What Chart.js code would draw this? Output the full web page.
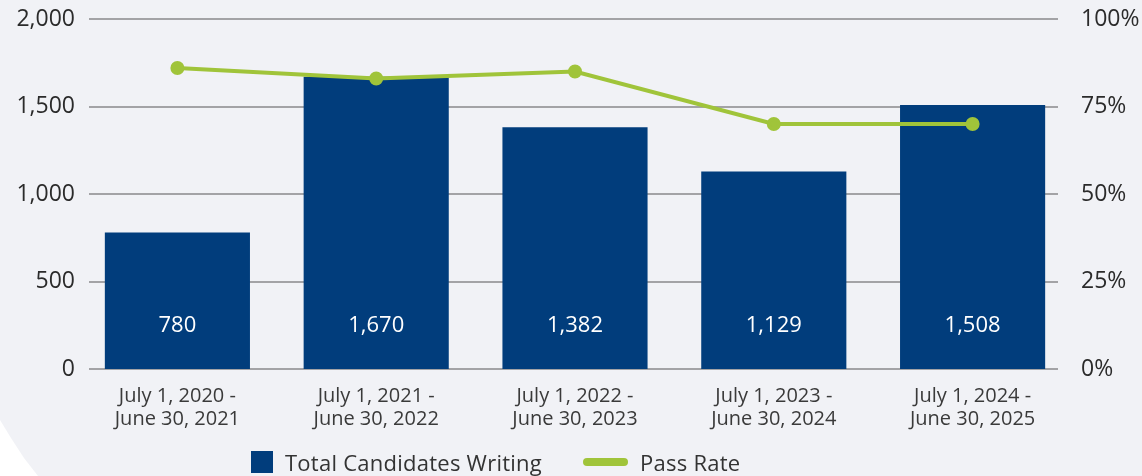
<!DOCTYPE html>
<html>
<head>
<meta charset="utf-8">
<script src="https://cdn.jsdelivr.net/npm/chart.js@4"></script>
<style>
  html, body { margin: 0; padding: 0; background: #ffffff; }
  #wrap {
    position: relative; width: 1142px; height: 476px;
    background: #f1f2f6;
    clip-path: polygon(0 0, 100% 0, 100% 100%, 38px 100%, 24px 458px, 11px 438px, 0 420px);
  }
  #chart { position: absolute; left: 0; top: 0; }
  #legend {
    position: absolute; top: 450px; left: 251px;
    display: flex; gap: 41px;
    font-family: "Open Sans", sans-serif; font-size: 22px; color: #333;
    letter-spacing: 0.25px;
  }
  .item { display: flex; align-items: center; height: 24px; white-space: nowrap; }
  .box { width: 22px; height: 22px; margin-right: 12px; }
  .ln { width: 45px; height: 8px; border-radius: 4px; margin-right: 12px; }
</style>
</head>
<body>
<div id="wrap">
  <canvas id="chart" width="1142" height="476"></canvas>
  <div id="legend"></div>
</div>
<script>
// Chart data
const periods = [
  ["July 1, 2020 -", "June 30, 2021"],
  ["July 1, 2021 -", "June 30, 2022"],
  ["July 1, 2022 -", "June 30, 2023"],
  ["July 1, 2023 -", "June 30, 2024"],
  ["July 1, 2024 -", "June 30, 2025"],
];
const candidates = [780, 1670, 1382, 1129, 1508];
const passRate = [86, 83, 85, 70, 70];

const navy = "#013d7c";
const green = "#a0c43a";
const font = "'Open Sans', sans-serif";

// horizontal grid lines, a bit inset from the plot edges
const gridLines = {
  id: "gridLines",
  beforeDatasetsDraw(chart) {
    const { ctx, chartArea, scales } = chart;
    ctx.save();
    ctx.strokeStyle = "#a3a3a6";
    ctx.lineWidth = 2;
    scales.y.ticks.forEach((t) => {
      const y = Math.round(scales.y.getPixelForValue(t.value));
      ctx.beginPath();
      ctx.moveTo(chartArea.left + 11, y);
      ctx.lineTo(chartArea.right - 14, y);
      ctx.stroke();
    });
    ctx.restore();
  },
};

// white value labels near the bottom of each bar
const barLabels = {
  id: "barLabels",
  afterDatasetsDraw(chart) {
    const { ctx } = chart;
    const meta = chart.getDatasetMeta(1);
    ctx.save();
    ctx.fillStyle = "#ffffff";
    ctx.font = "22px " + font;
    ctx.textAlign = "center";
    ctx.textBaseline = "middle";
    meta.data.forEach((bar, i) => {
      ctx.fillText(candidates[i].toLocaleString("en-US"), bar.x, bar.base - 43);
    });
    ctx.restore();
  },
};

const noPad = (s) => {
  s.paddingTop = 0;
  s.paddingBottom = 0;
  s.paddingLeft = 0;
  s.paddingRight = 0;
};

const chart = new Chart(document.getElementById("chart"), {
  data: {
    labels: periods,
    datasets: [
      {
        type: "line",
        label: "Pass Rate",
        data: passRate,
        yAxisID: "y1",
        borderColor: green,
        backgroundColor: green,
        borderWidth: 4,
        pointRadius: 5,
        pointHoverRadius: 5,
        tension: 0,
      },
      {
        type: "bar",
        label: "Total Candidates Writing",
        data: candidates,
        yAxisID: "y",
        backgroundColor: navy,
        barPercentage: 0.73,
        categoryPercentage: 1,
      },
    ],
  },
  options: {
    responsive: false,
    animation: false,
    layout: { padding: { top: 19, left: 0, right: 0, bottom: 0 } },
    plugins: { legend: { display: false }, tooltip: { enabled: false } },
    scales: {
      x: {
        grid: { display: false },
        border: { display: false },
        ticks: {
          color: "#3a3a3a",
          font: { family: font, size: 20, lineHeight: 1.15 },
          padding: 8,
          maxRotation: 0,
        },
        afterFit: (s) => { noPad(s); s.height = 107; },
      },
      y: {
        position: "left",
        min: 0,
        max: 2000,
        ticks: {
          stepSize: 500,
          color: "#2b2b2b",
          padding: 3,
          font: { family: font, size: 23 },
          callback: (v) => v.toLocaleString("en-US"),
        },
        grid: { display: false, drawTicks: false },
        border: { display: false },
        afterFit: (s) => { noPad(s); s.width = 78; },
      },
      y1: {
        position: "right",
        min: 0,
        max: 100,
        ticks: {
          stepSize: 25,
          color: "#2b2b2b",
          padding: 9,
          font: { family: font, size: 23 },
          callback: (v) => v + "%",
        },
        grid: { display: false, drawTicks: false },
        border: { display: false },
        afterFit: (s) => { noPad(s); s.width = 70; },
      },
    },
  },
  plugins: [gridLines, barLabels],
});

// HTML legend from the datasets
const legend = document.getElementById("legend");
legend.innerHTML = [chart.data.datasets[1], chart.data.datasets[0]]
  .map((ds) => {
    const mark = ds.type === "bar"
      ? `<span class="box" style="background:${ds.backgroundColor}"></span>`
      : `<span class="ln" style="background:${ds.borderColor}"></span>`;
    return `<span class="item">${mark}${ds.label}</span>`;
  })
  .join("");
</script>
</body>
</html>
